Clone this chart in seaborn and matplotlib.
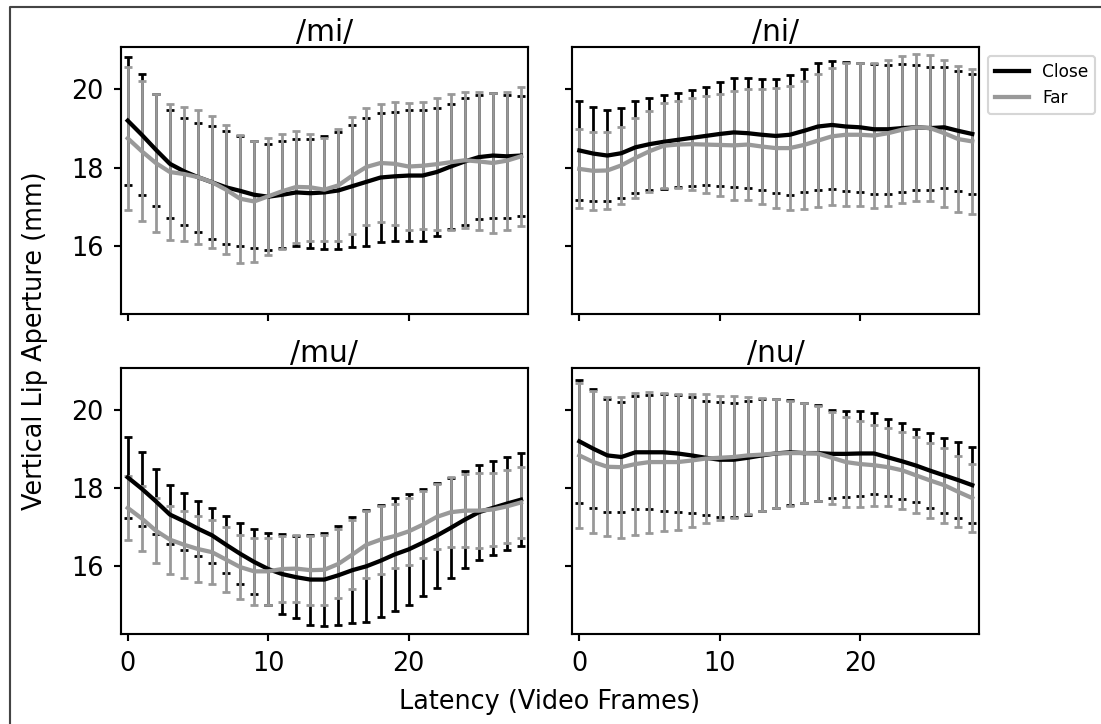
import numpy as np
import pandas as pd
import matplotlib
matplotlib.use("Agg")
import matplotlib.pyplot as plt
import seaborn as sns
from matplotlib.lines import Line2D

# ---------------- data ----------------
frames = list(range(29))
conditions = ["Close", "Far"]
syllables = ["/mi/", "/ni/", "/mu/", "/nu/"]
x_ticks = [0, 10, 20]
y_ticks = [16, 18, 20]

mi_close_mean = [19.20, 18.84, 18.46, 18.10, 17.91, 17.76, 17.63, 17.50, 17.41, 17.31, 17.26, 17.31, 17.37, 17.35, 17.37,
                 17.42, 17.53, 17.64, 17.75, 17.78, 17.80, 17.80, 17.89, 18.03, 18.16, 18.27, 18.31, 18.29, 18.31]
mi_close_err = [1.63, 1.54, 1.43, 1.37, 1.37, 1.39, 1.44, 1.44, 1.40, 1.36, 1.35, 1.36, 1.37, 1.39, 1.43,
                1.49, 1.55, 1.63, 1.65, 1.65, 1.66, 1.66, 1.62, 1.60, 1.61, 1.59, 1.59, 1.56, 1.53]
mi_far_mean = [18.75, 18.42, 18.12, 17.89, 17.84, 17.76, 17.63, 17.44, 17.21, 17.14, 17.27, 17.40, 17.51, 17.50, 17.44,
               17.55, 17.80, 18.02, 18.12, 18.10, 18.03, 18.05, 18.09, 18.14, 18.19, 18.16, 18.12, 18.18, 18.29]
mi_far_err = [1.83, 1.78, 1.76, 1.73, 1.72, 1.71, 1.68, 1.65, 1.63, 1.55, 1.50, 1.46, 1.42, 1.37, 1.31,
              1.43, 1.49, 1.49, 1.50, 1.57, 1.61, 1.62, 1.68, 1.73, 1.74, 1.76, 1.78, 1.76, 1.78]

ni_close_mean = [18.44, 18.36, 18.31, 18.37, 18.52, 18.60, 18.66, 18.71, 18.76, 18.81, 18.86, 18.90, 18.88, 18.84, 18.81,
                 18.84, 18.94, 19.05, 19.09, 19.05, 19.03, 18.98, 18.98, 19.01, 19.03, 19.01, 19.03, 18.94, 18.86]
ni_close_err = [1.26, 1.20, 1.17, 1.15, 1.17, 1.18, 1.20, 1.20, 1.23, 1.26, 1.32, 1.38, 1.40, 1.42, 1.45,
                1.53, 1.57, 1.63, 1.64, 1.64, 1.64, 1.66, 1.65, 1.63, 1.60, 1.57, 1.54, 1.53, 1.52]
ni_far_mean = [17.97, 17.92, 17.93, 18.06, 18.25, 18.42, 18.56, 18.59, 18.60, 18.59, 18.58, 18.57, 18.59, 18.54, 18.50,
               18.50, 18.58, 18.69, 18.80, 18.84, 18.84, 18.82, 18.88, 18.97, 19.03, 19.01, 18.88, 18.73, 18.67]
ni_far_err = [1.01, 0.99, 0.98, 0.98, 1.01, 1.03, 1.08, 1.12, 1.17, 1.23, 1.31, 1.39, 1.41, 1.46, 1.53,
              1.58, 1.63, 1.69, 1.75, 1.82, 1.82, 1.84, 1.86, 1.87, 1.88, 1.87, 1.87, 1.87, 1.85]

mu_close_mean = [18.27, 17.98, 17.66, 17.32, 17.15, 16.96, 16.79, 16.55, 16.32, 16.11, 15.93, 15.80, 15.72, 15.66, 15.66,
                 15.77, 15.90, 16.00, 16.14, 16.30, 16.43, 16.60, 16.78, 16.98, 17.19, 17.38, 17.49, 17.60, 17.70]
mu_close_err = [1.03, 0.95, 0.83, 0.75, 0.73, 0.71, 0.70, 0.73, 0.78, 0.83, 0.92, 1.03, 1.04, 1.15, 1.19,
                1.27, 1.36, 1.43, 1.43, 1.44, 1.42, 1.37, 1.34, 1.28, 1.24, 1.21, 1.21, 1.19, 1.19]
mu_far_mean = [17.49, 17.22, 16.91, 16.68, 16.55, 16.44, 16.36, 16.17, 15.98, 15.87, 15.87, 15.93, 15.94, 15.90, 15.91,
               16.06, 16.30, 16.55, 16.68, 16.77, 16.89, 17.06, 17.26, 17.38, 17.42, 17.42, 17.45, 17.53, 17.63]
mu_far_err = [0.82, 0.82, 0.83, 0.87, 0.86, 0.84, 0.82, 0.82, 0.82, 0.85, 0.86, 0.85, 0.85, 0.88, 0.89,
              0.88, 0.88, 0.85, 0.87, 0.82, 0.86, 0.85, 0.83, 0.90, 0.93, 0.95, 0.94, 0.93, 0.90]

nu_close_mean = [19.19, 19.00, 18.83, 18.79, 18.91, 18.91, 18.91, 18.88, 18.83, 18.77, 18.72, 18.72, 18.77, 18.83, 18.88,
                 18.91, 18.89, 18.89, 18.87, 18.87, 18.88, 18.88, 18.78, 18.68, 18.57, 18.44, 18.32, 18.20, 18.07]
nu_close_err = [1.57, 1.52, 1.45, 1.41, 1.45, 1.46, 1.50, 1.49, 1.48, 1.46, 1.47, 1.45, 1.45, 1.43, 1.39,
                1.34, 1.27, 1.23, 1.13, 1.10, 1.08, 1.03, 0.99, 0.97, 0.93, 0.96, 0.96, 0.96, 0.97]
nu_far_mean = [18.83, 18.66, 18.54, 18.53, 18.61, 18.66, 18.66, 18.66, 18.70, 18.75, 18.77, 18.79, 18.83, 18.85, 18.88,
               18.89, 18.89, 18.88, 18.77, 18.66, 18.61, 18.58, 18.53, 18.45, 18.32, 18.19, 18.07, 17.90, 17.74]
nu_far_err = [1.85, 1.81, 1.78, 1.80, 1.82, 1.80, 1.77, 1.74, 1.69, 1.64, 1.59, 1.55, 1.49, 1.44, 1.40,
              1.34, 1.28, 1.21, 1.17, 1.14, 1.09, 1.03, 0.99, 0.99, 0.97, 0.96, 0.96, 0.91, 0.86]

panel_data = {
    "/mi/": {"Close": (mi_close_mean, mi_close_err), "Far": (mi_far_mean, mi_far_err)},
    "/ni/": {"Close": (ni_close_mean, ni_close_err), "Far": (ni_far_mean, ni_far_err)},
    "/mu/": {"Close": (mu_close_mean, mu_close_err), "Far": (mu_far_mean, mu_far_err)},
    "/nu/": {"Close": (nu_close_mean, nu_close_err), "Far": (nu_far_mean, nu_far_err)},
}

# ---------------- style ----------------
sns.set_style("ticks", rc={
    "axes.edgecolor": "black", "xtick.color": "black", "ytick.color": "black",
    "text.color": "black", "axes.labelcolor": "black",
    "lines.solid_capstyle": "projecting",
})
plt.rcParams.update({
    "font.family": ["DejaVu Sans"],
    "axes.linewidth": 1.0,
    "xtick.major.width": 1.0, "ytick.major.width": 1.0,
    "xtick.major.size": 3.5, "ytick.major.size": 3.5,
    "xtick.major.pad": 4.5, "ytick.major.pad": 4.5,
    "xtick.labelsize": 12, "ytick.labelsize": 12,
})

colors = {"Close": "black", "Far": "#999999"}

DPI = 153
fig, axes = plt.subplots(2, 2, sharex=True, sharey=True,
                         figsize=(1101 / DPI, 724 / DPI), dpi=DPI)

W, H = 1101.0, 724.0
col_x = [(120.7, 528.0), (572.3, 979.3)]
row_y = [(47.3, 314.0), (367.7, 634.0)]
for r in range(2):
    for c in range(2):
        x0, x1 = col_x[c]
        yt, yb = row_y[r]
        axes[r, c].set_position([x0 / W, 1 - yb / H, (x1 - x0) / W, (yb - yt) / H])

for ax, syl in zip(axes.flat, syllables):
    # error bars first (both conditions), then mean lines on top
    for cond in conditions:
        m, e = panel_data[syl][cond]
        ax.errorbar(frames, m, yerr=e, fmt="none", ecolor=colors[cond],
                    elinewidth=1.3, capsize=1.8, capthick=1.3, zorder=2)
    for cond in conditions:
        m, e = panel_data[syl][cond]
        sns.lineplot(x=frames, y=m, ax=ax, color=colors[cond], linewidth=2.0,
                     label=cond, legend=False, zorder=2.1)
    ax.set_title(syl, fontsize=14, pad=1.5)
    ax.set_xlim(-0.5, 28.5)
    ax.set_ylim(14.27, 21.07)
    ax.set_xticks(x_ticks)
    ax.set_yticks(y_ticks)
    ax.set_xlabel("")
    ax.set_ylabel("")
    for s in ["top", "right", "left", "bottom"]:
        ax.spines[s].set_visible(True)
        ax.spines[s].set_linewidth(1.0)

handles = [Line2D([0], [0], color=colors[c], lw=2.0) for c in conditions]
leg = axes[0, 1].legend(handles, conditions, loc="upper left", bbox_to_anchor=(1.0, 1.0),
                        fontsize=8, frameon=True, fancybox=True, framealpha=0.8)
leg.get_frame().set_edgecolor("0.8")

fig.text(35 / W, 1 - 340.5 / H, "Vertical Lip Aperture (mm)", rotation=90,
         ha="center", va="center", fontsize=12)
fig.text(550 / W, 1 - 702 / H, "Latency (Video Frames)", ha="center", va="center", fontsize=12)

# outer frame (cropped border of the original figure)
fx, fy = 10 / W, 1 - 7 / H
fig.add_artist(Line2D([fx, fx, 1.0], [0.0, fy, fy], transform=fig.transFigure,
                      color="#444444", lw=1.0))

fig.savefig("out.png", dpi=DPI)
